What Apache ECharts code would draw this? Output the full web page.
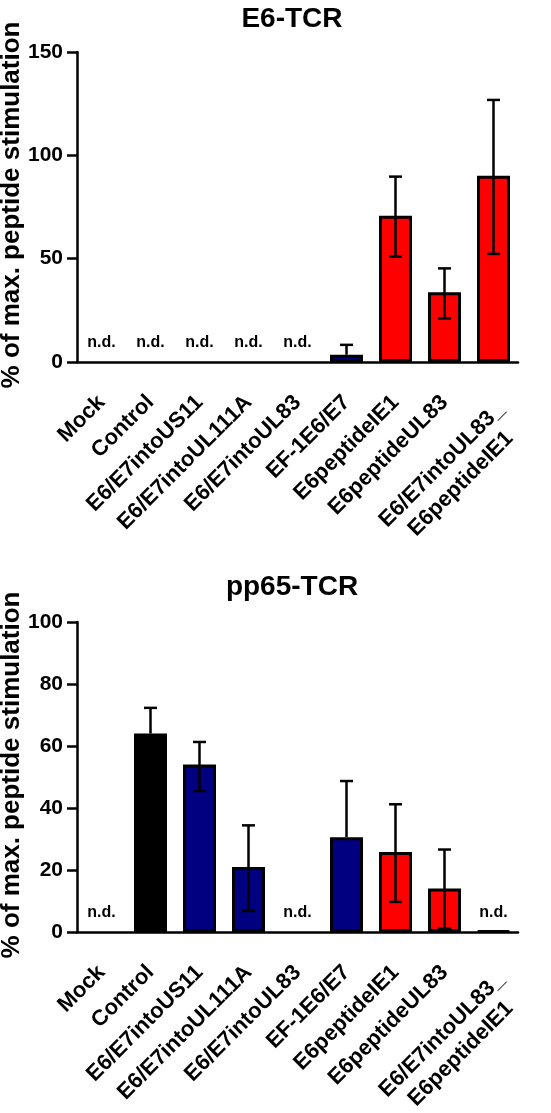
<!DOCTYPE html>
<html><head><meta charset="utf-8">
<script src="https://cdn.jsdelivr.net/npm/echarts@6/dist/echarts.min.js"></script>
<style>html,body{margin:0;padding:0;background:#fff}#c{width:551px;height:1113px}</style>
</head><body><div id="c"></div>
<script>
// ---------- data ----------
const categories = ['Mock','Control','E6/E7intoUS11','E6/E7intoUL111A','E6/E7intoUL83','EF-1E6/E7','E6peptideIE1','E6peptideUL83','E6/E7intoUL83_\nE6peptideIE1'];

const e6Title = 'E6-TCR';
const e6Values  = [null,null,null,null,null,3.5,70.8,33.7,90.1];
const e6ErrHigh = [null,null,null,null,null,8.3,89.7,45.3,126.8];
const e6ErrLow  = [null,null,null,null,null,3.5,51.0,21.1,52.3];
const e6NotDetected = [true,true,true,true,true,false,false,false,false];
const e6Groups = ['none','none','none','none','none','blue','red','red','red'];
const e6Ticks = [0,50,100,150];

const pp65Title = 'pp65-TCR';
const pp65Values  = [null,64.0,54.0,21.0,null,30.6,25.8,14.0,0.4];
const pp65ErrHigh = [null,72.3,61.3,34.4,null,48.7,41.2,26.6,null];
const pp65ErrLow  = [null,64.0,45.5,6.8,null,30.6,9.7,1.1,null];
const pp65NotDetected = [true,false,false,false,true,false,false,false,true];
const pp65Groups = ['none','black','blue','blue','none','blue','red','red','red'];
const pp65Ticks = [0,20,40,60,80,100];

const yName = '% of max. peptide stimulation';
const ndText = 'n.d.';

// ---------- styles ----------
const groupColors = {none:'#ffffff', black:'#000000', blue:'#000080', red:'#ff0000'};
const FONT = 'Liberation Sans';

function barData(vals, groups){
  return vals.map((v,i)=> v==null ? null : {value:v, itemStyle:{color:groupColors[groups[i]]}});
}
function errRender(params, api){
  const i = api.value(0), h = api.value(1), l = api.value(2), v = api.value(3);
  if (h == null || isNaN(h)) return;
  const pH = api.coord([i,h]), pL = api.coord([i,l]);
  const half = 6.5, st = {stroke:'#000', lineWidth:2.5};
  const ch = [
    {type:'line', shape:{x1:pH[0],y1:pH[1],x2:pL[0],y2:pL[1]}, style:st},
    {type:'line', shape:{x1:pH[0]-half,y1:pH[1],x2:pH[0]+half,y2:pH[1]}, style:st}
  ];
  if (l < v) ch.push({type:'line', shape:{x1:pL[0]-half,y1:pL[1],x2:pL[0]+half,y2:pL[1]}, style:st});
  return {type:'group', children:ch};
}
function ndRender(params, api){
  const i = api.value(0);
  const p = api.coord([i,0]);
  return {type:'text', x:p[0], y:p[1]-19, style:{text:ndText, font:'bold 16px "'+FONT+'"', fill:'#000', align:'center', verticalAlign:'middle'}};
}
function labelFormatter(v){
  const lines = String(v).split('\n');
  if (lines.length === 1) return '{c|' + v + '}';
  return '{sp| }\n' + lines.map(s=>'{c|'+s+'}').join('\n');
}

const grids = [
  {left:77, top:52, width:441, height:310, containLabel:false, outerBoundsMode:'none'},
  {left:77, top:622, width:441, height:310, containLabel:false, outerBoundsMode:'none'}
];
function xAxis(idx){
  return {type:'category', gridIndex:idx, data:categories,
    axisLine:{lineStyle:{color:'#000', width:2.5}}, axisTick:{show:false},
    axisLabel:{interval:0, rotate:45, margin:37, color:'#000', fontFamily:FONT, fontWeight:'bold', fontSize:22,
      formatter:labelFormatter,
      rich:{
        c:{fontFamily:FONT, fontWeight:'bold', fontSize:22, lineHeight:27, align:'center', color:'#000'},
        sp:{fontSize:10, lineHeight:47}
      }}};
}
function yAxis(idx, ticks){
  return {type:'value', gridIndex:idx, min:ticks[0], max:ticks[ticks.length-1], interval:ticks[1]-ticks[0],
    axisLine:{show:true, lineStyle:{color:'#000', width:2.5}},
    axisTick:{show:true, length:10, lineStyle:{color:'#000', width:2.5}},
    splitLine:{show:false},
    axisLabel:{margin:14, color:'#000', fontFamily:FONT, fontWeight:'bold', fontSize:21}};
}
function yNameGraphic(g){
  return {type:'text', x:12, y:g.top + g.height/2 - 2, rotation:Math.PI/2, silent:true,
    style:{text:yName, font:'bold 26px "'+FONT+'"', fill:'#000', align:'center', verticalAlign:'middle'}};
}
function seriesFor(idx, vals, hi, lo, nd, groups){
  return [
    {type:'bar', xAxisIndex:idx, yAxisIndex:idx, data:barData(vals,groups), barWidth:33,
      itemStyle:{borderColor:'#000', borderWidth:3}, z:2, silent:true},
    {type:'custom', xAxisIndex:idx, yAxisIndex:idx, renderItem:errRender, z:3, silent:true,
      data:vals.map((v,i)=>[i, hi[i]==null?NaN:hi[i], lo[i]==null?NaN:lo[i], v==null?NaN:v]),
      encode:{x:0, y:[1,2]}},
    {type:'custom', xAxisIndex:idx, yAxisIndex:idx, renderItem:ndRender, z:4, silent:true,
      data:nd.map((f,i)=>f?[i,0]:null).filter(d=>d), encode:{x:0,y:1}}
  ];
}

const chart = echarts.init(document.getElementById('c'), null, {renderer:'canvas'});
chart.setOption({
  animation:false,
  backgroundColor:'#fff',
  title:[
    {text:e6Title, left:287, top:0, textAlign:'center', textStyle:{fontFamily:FONT, fontWeight:'bold', fontSize:28, color:'#000'}},
    {text:pp65Title, left:287, top:568, textAlign:'center', textStyle:{fontFamily:FONT, fontWeight:'bold', fontSize:28, color:'#000'}}
  ],
  grid:grids,
  graphic:[yNameGraphic(grids[0]), yNameGraphic(grids[1])],
  xAxis:[xAxis(0), xAxis(1)],
  yAxis:[yAxis(0,e6Ticks), yAxis(1,pp65Ticks)],
  series:[].concat(
    seriesFor(0, e6Values, e6ErrHigh, e6ErrLow, e6NotDetected, e6Groups),
    seriesFor(1, pp65Values, pp65ErrHigh, pp65ErrLow, pp65NotDetected, pp65Groups)
  )
});
</script></body></html>
